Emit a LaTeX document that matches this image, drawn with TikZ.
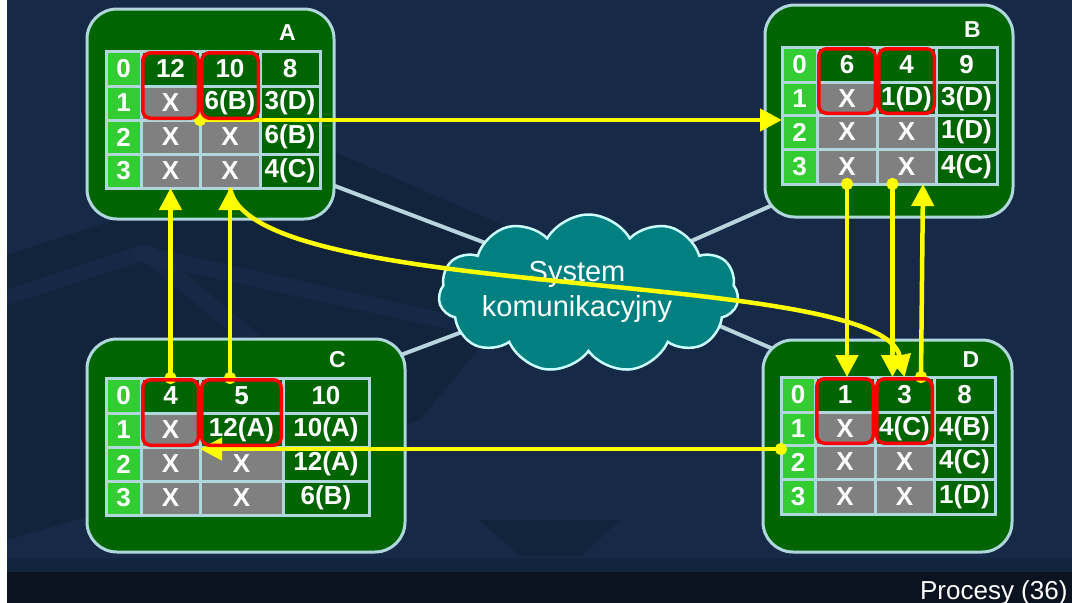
\documentclass[tikz,border=0pt]{standalone}
\usepackage{fontspec}
\setmainfont{Liberation Sans}
\usetikzlibrary{arrows.meta,shapes.symbols}

\definecolor{navy}{HTML}{162947}
\definecolor{navydark}{HTML}{12233C}
\definecolor{navylight}{HTML}{1A3050}
\definecolor{barcol}{HTML}{0B1320}
\definecolor{boxfill}{HTML}{006400}
\definecolor{edgecol}{HTML}{B0D8DC}
\definecolor{idxcol}{HTML}{33CC33}
\definecolor{dkg}{HTML}{006400}
\definecolor{gry}{HTML}{808080}
\definecolor{hlred}{HTML}{FF0000}
\definecolor{yel}{HTML}{FFFF00}
\definecolor{netfill}{HTML}{008080}
\definecolor{netedge}{HTML}{CCFFFF}
\definecolor{linkcol}{HTML}{B8D4DC}

\pgfdeclarelayer{deep}
\pgfdeclarelayer{back}
\pgfsetlayers{deep,back,main}

% one process table: #1 name, #2 column edges, #3 row edges, #4 row/col/fill/text
\newcommand\proctable[4]{%
  \foreach \r/\c/\f/\t in {#4}{%
    \pgfmathtruncatemacro\cn{\c+1}%
    \pgfmathtruncatemacro\rn{\r+1}%
    \pgfmathsetmacro\xa{{#2}[\c]}%
    \pgfmathsetmacro\xb{{#2}[\cn]}%
    \pgfmathsetmacro\ya{{#3}[\r]}%
    \pgfmathsetmacro\yb{{#3}[\rn]}%
    \node[cell, fill=\f, minimum width={\xb-\xa}, minimum height={\yb-\ya}]
      (#1-\r-\c) at ({(\xa+\xb)/2},{(\ya+\yb)/2}) {\t};
  }%
}

\begin{document}
\begin{tikzpicture}[x=1pt,y=-1pt,
  procbox/.style={draw=edgecol, line width=3pt, fill=boxfill, rounded corners=30pt, inner sep=0pt},
  cell/.style={draw=edgecol, line width=3pt, inner sep=0pt, outer sep=0pt, text=white,
    font=\fontsize{26}{26}\selectfont\bfseries},
  lbl/.style={text=white, font=\fontsize{23}{23}\selectfont\bfseries},
  hl/.style={draw=hlred, line width=3.5pt, rounded corners=8pt},
  flow/.style={draw=yel, line width=4.5pt, -{Triangle[length=22pt,width=22pt]}},
  dotflow/.style={flow, {Circle[length=12pt,width=12pt]}-{Triangle[length=22pt,width=22pt]}, shorten <=-6pt},
  link/.style={draw=linkcol, line width=4pt},
]
% backdrop
\begin{pgfonlayer}{deep}
  \fill[navy] (0,0) rectangle (1072,603);
  \fill[navydark] (7,255) -- (330,150) -- (560,250) -- (420,420) -- (7,540) -- cycle;
  \fill[navylight, opacity=0.45] (7,290) -- (140,245) -- (520,330) -- (520,345) -- (140,262) -- (7,305) -- cycle;
  \fill[navylight, opacity=0.45] (130,250) -- (150,245) -- (260,335) -- (240,340) -- cycle;
  \fill[navydark] (479,520) -- (619,520) -- (582,556) -- (520,556) -- cycle;
  \fill[navydark!80!navy] (0,558) rectangle (1072,572);
  \fill[barcol] (0,572) rectangle (1072,603);
  \fill[white] (0,0) rectangle (7,603);
\end{pgfonlayer}
\useasboundingbox (0,0) rectangle (1072,603);

% process boxes
\node[procbox, minimum width=247pt, minimum height=210pt] (boxA) at (210.5,114) {};
\node[procbox, minimum width=248pt, minimum height=212pt] (boxB) at (889,111) {};
\node[procbox, minimum width=318pt, minimum height=213pt] (boxC) at (246,445.5) {};
\node[procbox, minimum width=249pt, minimum height=212pt] (boxD) at (887.5,446) {};

\node[lbl] (lblA) at (287.5,32.5) {A};
\node[lbl] (lblB) at (972.5,29.5) {B};
\node[lbl] (lblC) at (337.5,360) {C};
\node[lbl] (lblD) at (971,359.5) {D};

% communication system
\node[cloud, cloud puffs=11, cloud puff arc=120, aspect=1.9, draw=netedge, line width=2.5pt,
  fill=netfill, minimum width=300pt, minimum height=158pt] (net) at (588.5,293.5) {};
\node[text=white, align=center, font=\fontsize{29}{35}\selectfont] (nettxt) at (577,292)
  {System\\komunikacyjny};

\begin{pgfonlayer}{back}
  \draw[link, shorten <=-3pt, shorten >=-25pt] (boxA.-30) -- (net.154);
  \draw[link, shorten <=-16pt, shorten >=-25pt] (boxB.218) -- (net.27);
  \draw[link, shorten <=-10pt, shorten >=-25pt] (boxC.30) -- (net.197);
  \draw[link, shorten <=-16pt, shorten >=-25pt] (boxD.141) -- (net.346);
\end{pgfonlayer}

% tables
\proctable{A}{106,141,200,260,320}{51,86,120,154,188}{
  0/0/idxcol/0, 0/1/dkg/12, 0/2/dkg/10, 0/3/dkg/8,
  1/0/idxcol/1, 1/1/gry/X, 1/2/dkg/6(B), 1/3/dkg/3(D),
  2/0/idxcol/2, 2/1/gry/X, 2/2/gry/X, 2/3/dkg/6(B),
  3/0/idxcol/3, 3/1/gry/X, 3/2/gry/X, 3/3/dkg/4(C)}
\proctable{B}{782,817,877,936,997}{47,82,115,149,184}{
  0/0/idxcol/0, 0/1/dkg/6, 0/2/dkg/4, 0/3/dkg/9,
  1/0/idxcol/1, 1/1/gry/X, 1/2/dkg/1(D), 1/3/dkg/3(D),
  2/0/idxcol/2, 2/1/gry/X, 2/2/gry/X, 2/3/dkg/1(D),
  3/0/idxcol/3, 3/1/gry/X, 3/2/gry/X, 3/3/dkg/4(C)}
\proctable{C}{106,141,200,283,369}{378,413,447,481,515}{
  0/0/idxcol/0, 0/1/dkg/4, 0/2/dkg/5, 0/3/dkg/10,
  1/0/idxcol/1, 1/1/gry/X, 1/2/dkg/12(A), 1/3/dkg/10(A),
  2/0/idxcol/2, 2/1/gry/X, 2/2/gry/X, 2/3/dkg/12(A),
  3/0/idxcol/3, 3/1/gry/X, 3/2/gry/X, 3/3/dkg/6(B)}
\proctable{D}{781,815,875,934,995}{377,412,445,479,514}{
  0/0/idxcol/0, 0/1/dkg/1, 0/2/dkg/3, 0/3/dkg/8,
  1/0/idxcol/1, 1/1/gry/X, 1/2/dkg/4(C), 1/3/dkg/4(B),
  2/0/idxcol/2, 2/1/gry/X, 2/2/gry/X, 2/3/dkg/4(C),
  3/0/idxcol/3, 3/1/gry/X, 3/2/gry/X, 3/3/dkg/1(D)}

% messages between processes
\draw[dotflow] (A-1-1.south east) -- (B-0-0.west |- A-1-1.south east);
\draw[dotflow] (C-0-1.north) -- (A-3-1.south);
\draw[dotflow] (A-3-2.south |- C-0-2.north) -- (A-3-2.south);
\draw[flow] (A-3-2.south) .. controls +(20,115) and +(-25,-110) .. (D-0-2.north);
\draw[dotflow] (B-3-1.south) -- (B-3-1.south |- D-0-1.north);
\draw[dotflow] ([xshift=-14pt]B-3-2.south) -- ([xshift=-14pt]B-3-2.south |- D-0-2.north);
\draw[dotflow] ([xshift=-13pt]D-0-2.north east) -- ([xshift=-13pt]B-3-2.south east);
\draw[dotflow] ([yshift=-4pt]D-1-0.south west) -- ([yshift=-4pt]D-1-0.south west -| C-1-1.south east);

% highlighted entries
\foreach \p in {A,B,C,D}{
  \draw[hl] ([xshift=1.75pt,yshift=-1.75pt]\p-0-1.north west) rectangle ([xshift=-1.75pt,yshift=1.75pt]\p-1-1.south east);
  \draw[hl] ([xshift=1.75pt,yshift=-1.75pt]\p-0-2.north west) rectangle ([xshift=-1.75pt,yshift=1.75pt]\p-1-2.south east);
}

\node[anchor=base east, text=white, font=\fontsize{26}{26}\selectfont] (foot) at (1071,599) {Procesy (36)};
\end{tikzpicture}
\end{document}
